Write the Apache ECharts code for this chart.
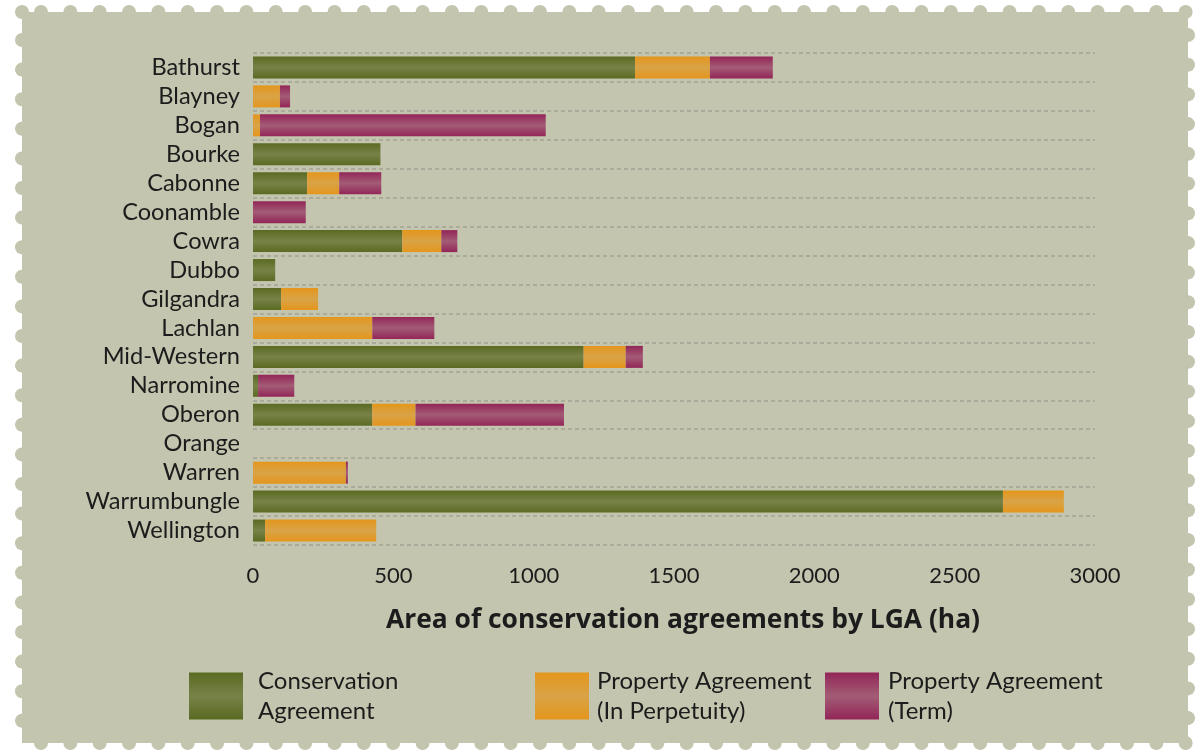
<!DOCTYPE html>
<html>
<head>
<meta charset="utf-8">
<title>Area of conservation agreements by LGA</title>
<script src="https://cdn.jsdelivr.net/npm/echarts@6/dist/echarts.min.js"></script>
<style>
    html, body {
        margin: 0;
        padding: 0;
        background: #ffffff;
    }
    #chart {
        width: 1202px;
        height: 750px;
    }
</style>
</head>
<body>
<div id="chart"></div>
<script>
// chart data (ha)
const categories = ['Bathurst', 'Blayney', 'Bogan', 'Bourke', 'Cabonne', 'Coonamble', 'Cowra', 'Dubbo',
    'Gilgandra', 'Lachlan', 'Mid-Western', 'Narromine', 'Oberon', 'Orange', 'Warren', 'Warrumbungle', 'Wellington'];
const conservationAgreement = [1361, 0, 0, 454, 193, 0, 532, 79, 100, 0, 1178, 18, 425, 0, 0, 2672, 43];
const propertyPerpetuity = [267, 96, 25, 0, 114, 0, 139, 0, 132, 425, 150, 0, 154, 0, 331, 217, 396];
const propertyTerm = [224, 36, 1018, 0, 150, 188, 57, 0, 0, 221, 61, 129, 529, 0, 7, 0, 0];
const seriesNames = ['Conservation Agreement', 'Property Agreement (In Perpetuity)', 'Property Agreement (Term)'];
const legendLabels = ['Conservation\nAgreement', 'Property Agreement\n(In Perpetuity)', 'Property Agreement\n(Term)'];
const xTicks = [0, 500, 1000, 1500, 2000, 2500, 3000];

const FONT = 'Lato, "DejaVu Sans", sans-serif';
const TEXT = '#1c1c1c';

function barGradient(edge, mid) {
    return new echarts.graphic.LinearGradient(0, 0, 0, 1, [
        { offset: 0, color: edge },
        { offset: 0.5, color: mid },
        { offset: 1, color: edge }
    ]);
}

const palette = [
    barGradient('#5a6a22', '#788248'),
    barGradient('#e4961c', '#d9a347'),
    barGradient('#932558', '#a35c75')
];

// stamp-shaped background (decoration only)
function stampShapes() {
    const fill = '#c3c5ae';
    const r = 7;
    const els = [{
        type: 'rect', z: -10, silent: true,
        shape: { x: 22, y: 12, width: 1166, height: 731 },
        style: { fill: fill }
    }];
    const dot = (cx, cy) => els.push({
        type: 'circle', z: -10, silent: true,
        shape: { cx: cx, cy: cy, r: r },
        style: { fill: fill }
    });
    dot(22, 12);
    for (let x = 41; x < 1192; x += 29.35) {
        dot(x, 12);
        dot(x, 743);
    }
    for (let y = 40; y < 745; y += 29.6) dot(22, y);
    for (let y = 35; y < 745; y += 29.7) dot(1188, y);
    return els;
}

const chart = echarts.init(document.getElementById('chart'));

const legendPos = [189, 535, 825];
const legendTextGap = [10, 3, 4];

chart.setOption({
    animation: false,
    backgroundColor: 'transparent',
    textStyle: { fontFamily: FONT },
    graphic: { elements: stampShapes() },
    title: {
        text: 'Area of conservation agreements by LGA (ha)',
        left: 381,
        top: 602,
        textStyle: { fontFamily: '"Open Sans", Lato, sans-serif', fontWeight: 'bold', fontSize: 26.4, color: TEXT }
    },
    legend: legendPos.map((left, i) => ({
        data: [seriesNames[i]],
        left: left,
        top: 657,
        padding: 0,
        itemWidth: 54,
        itemHeight: 47,
        icon: 'rect',
        formatter: () => legendLabels[i],
        textStyle: {
            fontFamily: FONT, fontSize: 24, color: TEXT, lineHeight: 30,
            padding: [18, 0, 0, legendTextGap[i]]
        }
    })),
    grid: {
        left: 253,
        right: 107,
        top: 53,
        bottom: 205,
        containLabel: false
    },
    xAxis: {
        type: 'value',
        min: 0,
        max: 3000,
        interval: 500,
        axisLine: { show: false },
        axisTick: { show: false },
        splitLine: { show: false },
        axisLabel: {
            margin: 20,
            fontFamily: FONT,
            fontSize: 22,
            color: TEXT,
            formatter: v => xTicks.includes(v) ? String(v) : ''
        }
    },
    yAxis: {
        type: 'category',
        inverse: true,
        data: categories,
        axisLine: { show: false },
        axisTick: { show: false },
        splitLine: {
            show: true,
            interval: 0,
            lineStyle: { color: '#a2a394', width: 1.5, type: [4, 3] }
        },
        axisLabel: {
            interval: 0,
            margin: 13,
            fontFamily: FONT,
            fontSize: 23.6,
            color: TEXT
        }
    },
    series: [conservationAgreement, propertyPerpetuity, propertyTerm].map((values, i) => ({
        name: seriesNames[i],
        type: 'bar',
        stack: 'total',
        data: values,
        barCategoryGap: '24%',
        itemStyle: { color: palette[i] }
    }))
});
</script>
</body>
</html>
